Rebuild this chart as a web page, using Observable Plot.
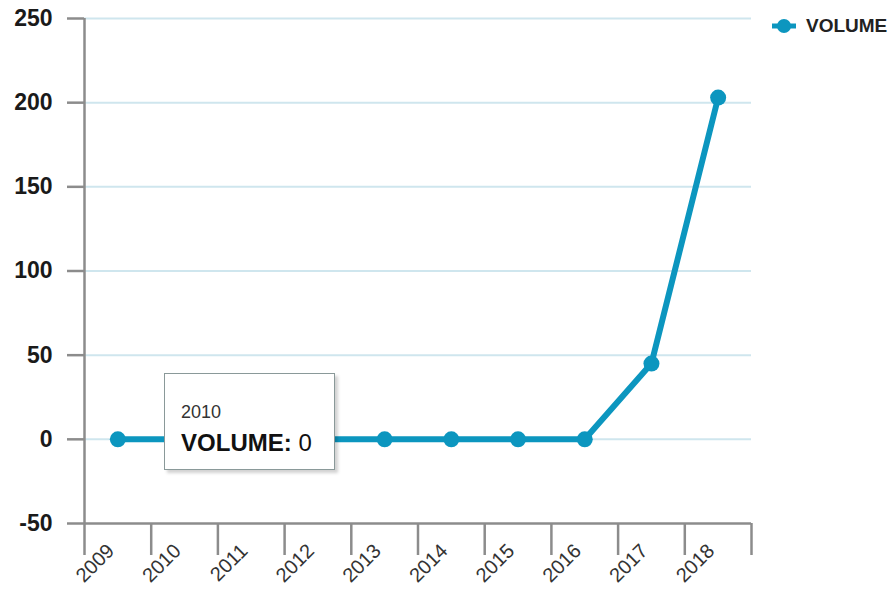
<!DOCTYPE html>
<html>
<head>
<meta charset="utf-8">
<script src="https://cdn.jsdelivr.net/npm/d3@7"></script>
<script src="https://cdn.jsdelivr.net/npm/@observablehq/plot@0.6"></script>
<style>
  html, body { margin: 0; padding: 0; background: #fff; }
  #wrap { position: relative; width: 896px; height: 590px; font-family: "Liberation Sans", Arial, sans-serif; }
  #legend { position: absolute; display: flex; align-items: center; font-weight: bold; font-size: 19px; color: #222; }
  #tip { position: absolute; background: #fff; border: 1.5px solid #8a9999; box-shadow: 3px 3px 3px rgba(0,0,0,0.18); box-sizing: border-box; }
  #tip .t1 { position: absolute; left: 16px; top: 28px; font-size: 18px; color: #333; }
  #tip .t2 { position: absolute; left: 16px; top: 55px; font-size: 24px; color: #111; }
</style>
</head>
<body>
<div id="wrap"></div>
<script>
const years = [2009, 2010, 2011, 2012, 2013, 2014, 2015, 2016, 2017, 2018];
const volume = [0, 0, 0, 0, 0, 0, 0, 0, 45, 203];
const yTicks = [-50, 0, 50, 100, 150, 200, 250];
const gridTicks = [0, 50, 100, 150, 200, 250];
const seriesName = "VOLUME";
const tipYear = 2010;

const lineColor = "#0c96bf";
const axisGrey = "#8c8c8c";

const data = years.map((y, i) => ({year: y, value: volume[i]}));
const bounds = years.map(y => y - 0.5).concat([years[years.length - 1] + 0.5]);

const plot = Plot.plot({
  width: 896,
  height: 590,
  marginLeft: 84,
  marginRight: 145,
  marginTop: 18,
  marginBottom: 67,
  style: {fontFamily: "'Liberation Sans', Arial, sans-serif", background: "transparent"},
  x: {type: "linear", domain: [bounds[0], bounds[bounds.length - 1]]},
  y: {domain: [yTicks[0], yTicks[yTicks.length - 1]]},
  marks: [
    Plot.ruleY(gridTicks, {stroke: "#cfe6ee", strokeWidth: 2}),
    Plot.ruleX([bounds[0]], {stroke: axisGrey, strokeWidth: 2.5}),
    Plot.ruleY([yTicks[0]], {stroke: axisGrey, strokeWidth: 2.5}),
    Plot.axisY({ticks: yTicks, tickSize: 17, tickPadding: 15, stroke: axisGrey, strokeWidth: 2.5,
      fill: "#1a1a1a", fontSize: 23, fontWeight: "bold", label: null, tickFormat: d => String(d)}),
    Plot.axisX({ticks: bounds, tickSize: 32, stroke: axisGrey, strokeWidth: 2.5, tickFormat: () => "", label: null}),
    Plot.axisX({ticks: years, tickSize: 0, tickPadding: 22, tickRotate: -45, fill: "#333",
      fontSize: 20, label: null, dx: -7, dy: 2, tickFormat: d => String(d)}),
    Plot.line(data, {x: "year", y: "value", stroke: lineColor, strokeWidth: 6, strokeLinejoin: "round"}),
    Plot.dot(data, {x: "year", y: "value", r: 8, fill: lineColor})
  ]
});

const wrap = document.getElementById("wrap");
wrap.appendChild(plot);

const xs = plot.scale("x"), ys = plot.scale("y");

// legend
const legend = document.createElement("div");
legend.id = "legend";
legend.style.left = "771px";
legend.style.top = "15px";
legend.innerHTML = `<svg width="26" height="22" style="margin-right:9px"><line x1="1" x2="25" y1="11" y2="11" stroke="${lineColor}" stroke-width="5"/><circle cx="13" cy="11" r="7" fill="${lineColor}"/></svg><span>${seriesName}</span>`;
wrap.appendChild(legend);

// tooltip
const tv = volume[years.indexOf(tipYear)];
const tip = document.createElement("div");
tip.id = "tip";
const px = xs.apply(tipYear), py = ys.apply(tv);
tip.style.left = (px - 20) + "px";
tip.style.top = (py - 66) + "px";
tip.style.width = "171px";
tip.style.height = "97px";
tip.innerHTML = `<div class="t1">${tipYear}</div><div class="t2"><b>${seriesName}:</b> ${tv}</div>`;
wrap.appendChild(tip);
</script>
</body>
</html>
